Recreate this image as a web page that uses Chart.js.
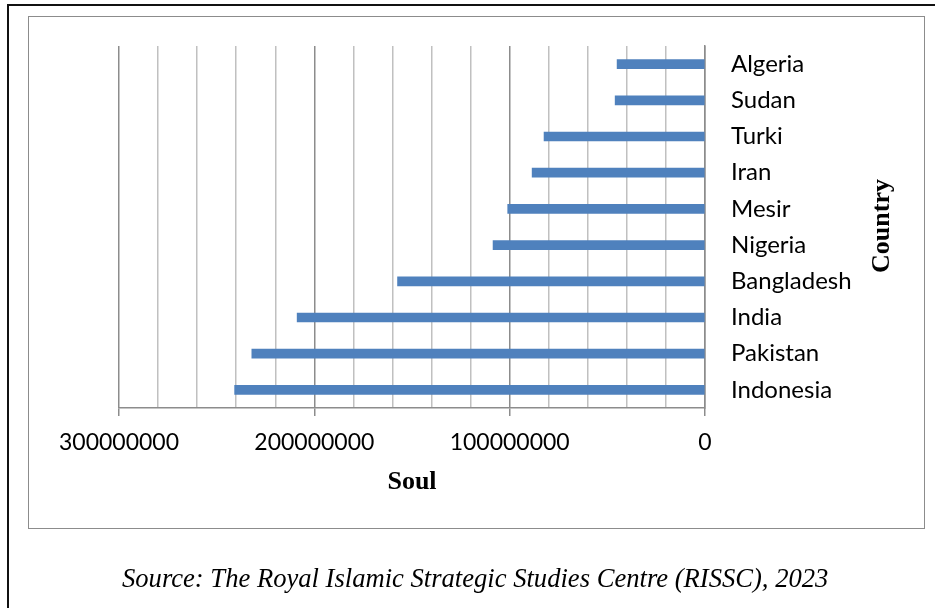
<!DOCTYPE html>
<html>
<head>
<meta charset="utf-8">
<script src="https://cdn.jsdelivr.net/npm/chart.js@4"></script>
<style>
  html, body { margin: 0; padding: 0; background: #fff; }
  #page { position: relative; width: 935px; height: 608px; overflow: hidden; }
  .frame-top { position: absolute; left: 7px; top: 4px; width: 940px; height: 2px; background: #111; }
  .frame-left { position: absolute; left: 7px; top: 4px; width: 2px; height: 620px; background: #111; }
  .box { position: absolute; left: 28px; top: 16px; width: 897px; height: 513px; border: 1.5px solid #8c8c8c; box-sizing: border-box; }
  .source {
    position: absolute; left: 122px; top: 563px; white-space: nowrap;
    font-family: "Liberation Serif", "Times New Roman", serif; font-style: italic; font-size: 26.6px;
  }
  canvas { position: absolute; left: 0; top: 0; }
</style>
</head>
<body>
<div id="page">
  <div class="frame-top"></div>
  <div class="frame-left"></div>
  <div class="box"></div>
  <canvas id="chartCanvas" width="935" height="608"></canvas>
  <div class="source">Source: The Royal Islamic Strategic Studies Centre (RISSC), 2023</div>
</div>
<script>
const countries = ['Algeria', 'Sudan', 'Turki', 'Iran', 'Mesir', 'Nigeria', 'Bangladesh', 'India', 'Pakistan', 'Indonesia'];
const population = [45000000, 46000000, 82400000, 88500000, 101000000, 108500000, 157400000, 208800000, 232000000, 240800000];
const axisMax = 300000000;
const gridStep = 20000000;
const labelStep = 100000000;
const xTitle = 'Soul';
const yTitle = 'Country';

// vertical axis title, reading bottom to top on the right side
const countryTitle = {
    id: 'countryTitle',
    afterDraw(chart) {
        const ctx = chart.ctx;
        ctx.save();
        ctx.translate(882, 226);
        ctx.rotate(-Math.PI / 2);
        ctx.font = 'bold 26px "Liberation Serif", "Times New Roman", serif';
        ctx.fillStyle = '#000';
        ctx.textAlign = 'center';
        ctx.textBaseline = 'middle';
        ctx.fillText(yTitle, 0, 0);
        ctx.restore();
    }
};

const isMajor = v => v % labelStep === 0;

const ctx = document.getElementById('chartCanvas').getContext('2d');
window.myChart = new Chart(ctx, {
    type: 'bar',
    data: {
        labels: countries,
        datasets: [{
            data: population,
            backgroundColor: '#4F81BD',
            barThickness: 9
        }]
    },
    options: {
        indexAxis: 'y',
        responsive: false,
        animation: false,
        layout: { padding: { left: 119, top: 46, right: 80, bottom: 110 } },
        plugins: {
            legend: { display: false },
            tooltip: { enabled: false }
        },
        scales: {
            x: {
                type: 'linear',
                reverse: true,
                min: 0,
                max: axisMax,
                afterFit(scale) {
                    scale.height = 90;
                    scale.paddingLeft = 0;
                    scale.paddingRight = 0;
                },
                ticks: {
                    stepSize: gridStep,
                    autoSkip: false,
                    maxRotation: 0,
                    padding: 13,
                    color: '#000',
                    font: { family: 'Lato', size: 23 },
                    callback: v => isMajor(v) ? String(v) : ''
                },
                grid: {
                    color: c => isMajor(c.tick.value) ? '#8c8c8c' : '#c0c0c0',
                    tickColor: c => isMajor(c.tick.value) ? '#8c8c8c' : 'rgba(0,0,0,0)',
                    lineWidth: 1.5,
                    tickLength: 8
                },
                border: { color: '#8c8c8c', width: 1.5 },
                title: {
                    display: true,
                    text: xTitle,
                    color: '#000',
                    font: { family: '"Liberation Serif", "Times New Roman", serif', size: 26, weight: 'bold' },
                    padding: { top: 0, bottom: 0 }
                }
            },
            y: {
                type: 'category',
                position: 'right',
                afterFit(scale) {
                    scale.width = 150;
                },
                grid: { display: false, drawTicks: false },
                border: { display: true, color: '#8c8c8c', width: 1.5 },
                ticks: {
                    padding: 26,
                    crossAlign: 'near',
                    color: '#000',
                    font: { family: 'Lato', size: 24 }
                }
            }
        }
    },
    plugins: [countryTitle]
});
</script>
</body>
</html>
